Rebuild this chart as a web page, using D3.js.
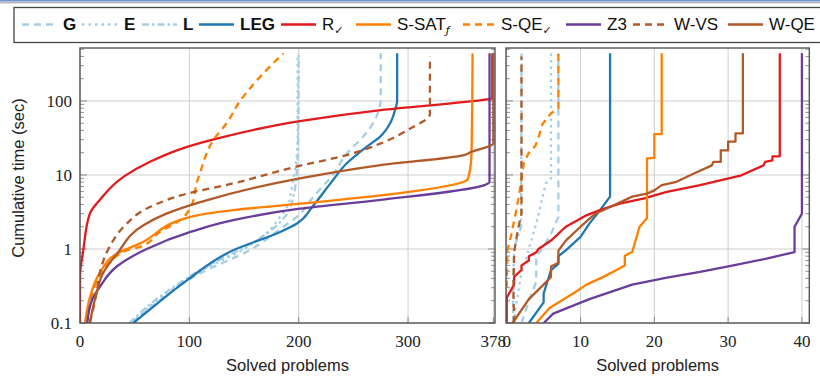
<!DOCTYPE html>
<html><head><meta charset="utf-8">
<script src="https://cdn.jsdelivr.net/npm/d3@7"></script>
<style>body{margin:0;background:#fff}svg{display:block}</style>
</head><body>
<svg id="c" width="820" height="377"></svg>
<script>
// ---------- data ----------
const seriesNames = ["G","E","L","LEG","R","S-SAT","S-QE","Z3","W-VS","W-QE"];
const seriesColors = ["#a6cee3","#a6cee3","#a6cee3","#1f78b4","#e31a1c","#ff7f00","#ff7f00","#6a3d9a","#b15928","#b15928"];
const seriesDash = ["7,5","2.5,4","7,3,2.5,3",null,null,null,"7,5",null,"7,5",null];
const seriesBold = [true,true,true,true,false,false,false,false,false,false];
const seriesSub = ["","","","","\u2713","\u0192","\u2713","","",""];

// left panel: [solved problems, cumulative time]
const leftG   = [[47,0.1],[64,0.16],[110,0.47],[155,0.96],[186,2.0],[198,2.7],[213.5,5.1],[232,10.4],[244,19.6],[259,33],[271,61],[274,85],[275,100],[275,440]];
const leftE   = [[47,0.1],[70,0.2],[110,0.5],[150,1.0],[170,1.6],[182,2.6],[190,3.9],[194,7.3],[198,17],[199,40],[199,440]];
const leftL   = [[45,0.1],[70,0.21],[110,0.52],[150,1.05],[175,1.8],[188,2.8],[195,5],[198,10],[199.5,30],[200,440]];
const leftLEG = [[48.8,0.1],[70,0.18],[98,0.38],[140,0.96],[183,1.7],[198,2.2],[213.5,3.9],[229,7.7],[244,14.4],[262,24],[274.5,33],[283.6,50],[288,75],[290,100],[290,440]];
const leftR   = [[0,0.1],[0,0.42],[3,0.96],[9,3.0],[18,4.6],[40,9.5],[64,15.1],[98,24],[125,31],[201,53.6],[275,75.5],[372,105],[377,108],[377,440]];
const leftSSAT= [[4.6,0.1],[9,0.22],[18,0.47],[34,0.87],[55,1.19],[101,2.72],[140,3.35],[201,4.1],[275,5.3],[351,8.1],[355,9],[358,19.6],[359,440]];
const leftSQE = [[5.5,0.1],[10,0.2],[18,0.44],[43,0.96],[55,1.07],[73,1.7],[91.5,2.45],[102,3.9],[106.6,7.7],[110,11],[122,29.7],[134,50],[146.4,100],[165,215],[186,440]];
const leftZ3  = [[6.7,0.1],[10.7,0.2],[18.3,0.31],[33.6,0.58],[61,1.0],[101,1.7],[140,2.45],[201,3.5],[275,4.6],[370,7.3],[374.5,8.1],[374.5,440]];
const leftWVS = [[9,0.1],[15,0.25],[18,0.47],[27,1.07],[40,2.0],[64,3.7],[98,5.6],[140,7.7],[198,13],[244,18.6],[275,26.7],[305,45],[319,61],[320,68],[320,400]];
const leftWQE = [[9,0.1],[15,0.25],[21,0.47],[34,0.87],[58,2.1],[79,3.0],[110,4.3],[201,9.0],[275,13.6],[351,18.6],[358,20.6],[378,26.7],[378,440]];

// right panel
const rightG   = [[2,0.1],[3,0.2],[4,0.36],[4,0.79],[5,1.07],[6,1.6],[7,2.7],[7,440]];
const rightE   = [[1,0.1],[1.2,0.16],[1.9,0.42],[2.8,0.87],[4,2.2],[5.3,7.7],[6,9],[6,440]];
const rightL   = [[0.85,0.1],[0.9,0.5],[1.05,1.07],[1.95,2.0],[2,440]];
const rightLEG = [[3,0.1],[5,0.19],[5,0.25],[6,0.52],[7,0.63],[7,0.8],[8,0.96],[10,1.46],[11.2,2.2],[12.6,3.3],[14,5.1],[14,440]];
const rightR   = [[0,0.1],[0,0.22],[1,0.33],[1,0.42],[2,0.52],[2,0.6],[3,0.7],[3,0.8],[4,0.9],[4.3,1.0],[6,1.3],[8,2.0],[10.8,2.85],[12.6,3.35],[15.3,4.1],[18.5,4.8],[21.7,5.9],[26.2,7.3],[31.8,9.9],[34.8,13.5],[35,15],[36,15.8],[36,17.9],[37,17.9],[37,440]];
const rightSSAT= [[4,0.1],[5.8,0.16],[9,0.25],[10.8,0.33],[13.1,0.42],[14.9,0.52],[16,0.6],[16,0.81],[17,0.91],[18,2.0],[19,2.6],[19,16.8],[20,17],[20,35.7],[21,35.7],[21,440]];
const rightSQE = [[0,0.3],[0.1,0.96],[0.55,1.46],[1.2,3.0],[1.7,5.6],[2,9],[2.35,14.9],[2.95,19.6],[3.9,25],[4.4,34.7],[4.85,49],[6,68],[7,80],[7,440]];
const rightZ3  = [[5,0.1],[6.3,0.134],[11.2,0.21],[17,0.33],[21.7,0.41],[26.2,0.49],[30.7,0.6],[35.2,0.74],[39,0.91],[39,2.0],[40,3.0],[40,440]];
const rightWVS = [[1,0.1],[0.9,0.3],[1,0.9],[1.5,1.8],[2,3],[2,400]];
const rightWQE = [[0.8,0.1],[3,0.21],[5,0.33],[6,0.42],[6,0.58],[7,0.65],[7,0.95],[8,1.3],[10,2.0],[12,3.0],[14,3.7],[17,5.1],[19,5.6],[20,6.2],[21,7.3],[23,8.1],[25.3,10.4],[27.8,13.5],[28,15],[29,15],[29,21.5],[30,21.5],[30,28.3],[31,28.3],[31,36.5],[32,36.5],[32,440]];

const leftData  = [leftG,leftE,leftL,leftLEG,leftR,leftSSAT,leftSQE,leftZ3,leftWVS,leftWQE];
const rightData = [rightG,rightE,rightL,rightLEG,rightR,rightSSAT,rightSQE,rightZ3,rightWVS,rightWQE];

const leftXTicks  = [0,100,200,300,378];
const rightXTicks = [0,10,20,30,40];
const yTicks = [0.1,1,10,100];
const yTickLabels = ["0.1","1","10","100"];
const xLabel = "Solved problems";
const yLabel = "Cumulative time (sec)";

// ---------- drawing ----------
const svg = d3.select("#c");
const serif = "'Liberation Serif','DejaVu Serif',serif";
const sans = "'Liberation Sans','DejaVu Sans',sans-serif";

// top decoration
svg.append("rect").attr("x",0).attr("y",0).attr("width",820).attr("height",1.6).attr("fill","#7094d4");
svg.append("line").attr("x1",0).attr("x2",820).attr("y1",2.8).attr("y2",2.8).attr("stroke","#999").attr("stroke-width",1);

const plotTop = 48, plotBottom = 323;
const y = d3.scaleLog().domain([0.1, 520]).range([plotBottom, plotTop]);

const panels = [
  {x: d3.scaleLinear().domain([0,379.5]).range([80,495]), ticks: leftXTicks, data: leftData, ylabels: true, id:"l", curve: d3.curveMonotoneY},
  {x: d3.scaleLinear().domain([-0.1,41]).range([506,809.3]), ticks: rightXTicks, data: rightData, ylabels: false, id:"r", curve: d3.curveLinear}
];

const minorVals = [];
[0.1,1,10,100].forEach(d => { for (let k=2;k<=9;k++){ const v=d*k; if (v<=520) minorVals.push(v);} });

panels.forEach(p => {
  const [x0,x1] = p.x.range();
  const g = svg.append("g");
  g.append("clipPath").attr("id","clip"+p.id).append("rect")
    .attr("x",x0).attr("y",plotTop).attr("width",x1-x0).attr("height",plotBottom-plotTop);
  // grid
  g.selectAll(".gx").data(p.ticks).enter().append("line")
    .attr("x1",d=>p.x(d)).attr("x2",d=>p.x(d)).attr("y1",plotTop).attr("y2",plotBottom)
    .attr("stroke","#cfcfcf").attr("stroke-width",1);
  g.selectAll(".gy").data(yTicks).enter().append("line")
    .attr("x1",x0).attr("x2",x1).attr("y1",d=>y(d)).attr("y2",d=>y(d))
    .attr("stroke","#cfcfcf").attr("stroke-width",1);
  // minor ticks left and right
  g.selectAll(".ml").data(minorVals).enter().append("line")
    .attr("x1",x0).attr("x2",x0+4).attr("y1",d=>y(d)).attr("y2",d=>y(d))
    .attr("stroke","#777").attr("stroke-width",0.8);
  g.selectAll(".mr").data(minorVals).enter().append("line")
    .attr("x1",x1-4).attr("x2",x1).attr("y1",d=>y(d)).attr("y2",d=>y(d))
    .attr("stroke","#777").attr("stroke-width",0.8);
  // major ticks
  g.selectAll(".Ml").data(yTicks).enter().append("line")
    .attr("x1",x0).attr("x2",x0+7).attr("y1",d=>y(d)).attr("y2",d=>y(d))
    .attr("stroke","#777").attr("stroke-width",0.8);
  g.selectAll(".Mr").data(yTicks).enter().append("line")
    .attr("x1",x1-7).attr("x2",x1).attr("y1",d=>y(d)).attr("y2",d=>y(d))
    .attr("stroke","#777").attr("stroke-width",0.8);
  g.selectAll(".Mb").data(p.ticks).enter().append("line")
    .attr("x1",d=>p.x(d)).attr("x2",d=>p.x(d)).attr("y1",plotBottom-6).attr("y2",plotBottom)
    .attr("stroke","#777").attr("stroke-width",0.8);

  // curves
  const line = d3.line().x(d=>p.x(d[0])).y(d=>y(d[1])).curve(p.curve);
  const cg = g.append("g").attr("clip-path","url(#clip"+p.id+")");
  p.data.forEach((s,i) => {
    const path = cg.append("path").datum(s).attr("d",line)
      .attr("fill","none").attr("stroke",seriesColors[i]).attr("stroke-width",2.3)
      .attr("stroke-linejoin","round");
    if (seriesDash[i]) path.attr("stroke-dasharray",seriesDash[i]);
  });

  // frame
  g.append("rect").attr("x",x0).attr("y",plotTop).attr("width",x1-x0).attr("height",plotBottom-plotTop)
    .attr("fill","none").attr("stroke","#555").attr("stroke-width",1.4);

  // x tick labels
  g.selectAll(".xl").data(p.ticks).enter().append("text")
    .attr("x",d=>p.x(d)).attr("y",347).attr("text-anchor","middle")
    .attr("font-family",serif).attr("font-size",17).attr("fill","#222").text(d=>d);
  // x label
  g.append("text").attr("x",(x0+x1)/2).attr("y",371).attr("text-anchor","middle")
    .attr("font-family",sans).attr("font-size",16.5).attr("fill","#222").text(xLabel);
  if (p.ylabels) {
    g.selectAll(".yl").data(yTicks).enter().append("text")
      .attr("x",72).attr("y",d=>y(d)).attr("dy","0.35em").attr("text-anchor","end")
      .attr("font-family",serif).attr("font-size",17).attr("fill","#222")
      .text((d,i)=>yTickLabels[i]);
    g.append("text").attr("transform","translate(24,178) rotate(-90)")
      .attr("text-anchor","middle").attr("font-family",sans).attr("font-size",16.5)
      .attr("fill","#222").text(yLabel);
  }
});

// legend
svg.append("rect").attr("x",14).attr("y",7.5).attr("width",830).attr("height",35)
  .attr("fill","#fff").attr("stroke","#444").attr("stroke-width",1.3);
const legLineX = [22,82,142,199,281,356,463,566,633,728];
const legTextX = [63,124,183,240,322,397,501,607,674,769];
const ly = 24.5;
seriesNames.forEach((n,i) => {
  const l = svg.append("line").attr("x1",legLineX[i]).attr("x2",legLineX[i]+35)
    .attr("y1",ly).attr("y2",ly).attr("stroke",seriesColors[i]).attr("stroke-width",2.3);
  if (seriesDash[i]) l.attr("stroke-dasharray",seriesDash[i]);
  const t = svg.append("text").attr("x",legTextX[i]).attr("y",30)
    .attr("font-family",sans).attr("font-size",17).attr("fill","#111")
    .attr("font-weight",seriesBold[i]?"bold":"normal").text(n);
  if (seriesSub[i]) t.append("tspan").attr("dy",4).attr("font-size",11)
    .attr("font-style","italic").attr("font-family","'DejaVu Sans',sans-serif").text(seriesSub[i]);
});
</script>
</body></html>
